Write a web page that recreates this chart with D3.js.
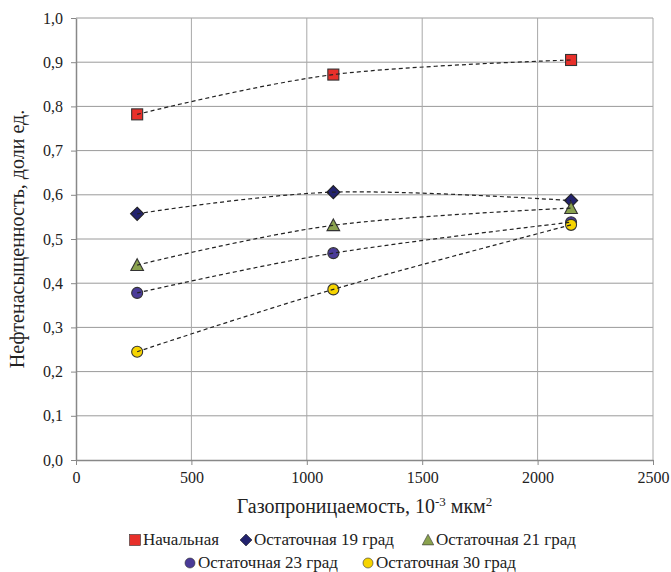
<!DOCTYPE html>
<html>
<head>
<meta charset="utf-8">
<script src="https://cdn.jsdelivr.net/npm/d3@7/dist/d3.min.js"></script>
<style>
  html, body { margin: 0; padding: 0; background: #fff; }
</style>
</head>
<body>
<svg id="chart" width="671" height="572" font-family="Liberation Serif"></svg>
<script>
// Gas permeability, 10^-3 µm²
const permeability = [265, 1115, 2145];

// Oil saturation, fraction
const seriesNames = ["Начальная", "Остаточная 19 град", "Остаточная 21 град", "Остаточная 23 град", "Остаточная 30 град"];
const initial  = [0.782, 0.872, 0.905];
const resid19  = [0.557, 0.606, 0.587];
const resid21  = [0.441, 0.531, 0.570];
const resid23  = [0.378, 0.468, 0.538];
const resid30  = [0.245, 0.386, 0.532];

const xTicks = [0, 500, 1000, 1500, 2000, 2500];
const yTicks = [0, 0.1, 0.2, 0.3, 0.4, 0.5, 0.6, 0.7, 0.8, 0.9, 1.0];

const series = [
  { name: seriesNames[0], values: initial, shape: "square",   fill: "#e8302a" },
  { name: seriesNames[1], values: resid19, shape: "diamond",  fill: "#23236e" },
  { name: seriesNames[2], values: resid21, shape: "triangle", fill: "#8aa24e" },
  { name: seriesNames[3], values: resid23, shape: "circle",   fill: "#4a3b98" },
  { name: seriesNames[4], values: resid30, shape: "circle",   fill: "#f6d400" }
];

const FONT = "Liberation Serif";
const svg = d3.select("#chart");
const plotLeft = 76, plotRight = 653, plotTop = 18, plotBottom = 460;

const x = d3.scaleLinear().domain([0, 2500]).range([plotLeft, plotRight]);
const y = d3.scaleLinear().domain([0, 1]).range([plotBottom, plotTop]);
const fmt = v => d3.format(".1f")(v).replace(".", ",");

// grid
const grid = svg.append("g");
grid.selectAll("line.h").data(yTicks.slice(1)).join("line")
  .attr("x1", plotLeft).attr("x2", plotRight)
  .attr("y1", d => y(d)).attr("y2", d => y(d))
  .attr("stroke", "#9a9a9a").attr("stroke-width", 1);
grid.selectAll("line.v").data(xTicks.slice(1)).join("line")
  .attr("x1", d => x(d)).attr("x2", d => x(d))
  .attr("y1", plotTop).attr("y2", plotBottom)
  .attr("stroke", "#a8a8a8").attr("stroke-width", 1);

// axes
const yAxis = svg.append("g").attr("transform", `translate(${plotLeft},0)`)
  .call(d3.axisLeft(y).tickValues(yTicks).tickFormat(fmt).tickSize(5).tickSizeOuter(0));
const xAxis = svg.append("g").attr("transform", `translate(0,${plotBottom})`)
  .call(d3.axisBottom(x).tickValues(xTicks).tickFormat(d3.format("d")).tickSize(5).tickSizeOuter(0));
[yAxis, xAxis].forEach(a => {
  a.attr("font-family", FONT).attr("font-size", 16);
  a.select(".domain").attr("stroke", "#888").attr("stroke-width", 1.5);
  a.selectAll(".tick line").attr("stroke", "#888");
  a.selectAll(".tick text").attr("fill", "#222").attr("font-family", FONT);
});
yAxis.selectAll(".tick text").attr("x", -13);
xAxis.selectAll(".tick text").attr("y", 12);

// axis titles
svg.append("text")
  .attr("transform", `translate(24,${(plotTop + plotBottom) / 2}) rotate(-90)`)
  .attr("text-anchor", "middle").attr("fill", "#222")
  .attr("font-family", FONT).attr("font-size", 20)
  .text("Нефтенасыщенность, доли ед.");

const xt = svg.append("text")
  .attr("x", (plotLeft + plotRight) / 2).attr("y", 513)
  .attr("text-anchor", "middle").attr("fill", "#222")
  .attr("font-family", FONT).attr("font-size", 20);
xt.append("tspan").text("Газопроницаемость, 10");
xt.append("tspan").attr("dy", -7).attr("font-size", 13).text("-3");
xt.append("tspan").attr("dy", 7).text(" мкм");
xt.append("tspan").attr("dy", -7).attr("font-size", 13).text("2");

// markers
function marker(g, shape, fill, cx, cy, s, sw) {
  if (shape === "square") {
    g.append("rect").attr("x", cx - s).attr("y", cy - s).attr("width", 2 * s).attr("height", 2 * s)
      .attr("fill", fill).attr("stroke", "#333").attr("stroke-width", sw);
  } else if (shape === "diamond") {
    const r = s * 1.2;
    g.append("path").attr("d", `M${cx},${cy - r}L${cx + r},${cy}L${cx},${cy + r}L${cx - r},${cy}Z`)
      .attr("fill", fill).attr("stroke", "#222").attr("stroke-width", sw);
  } else if (shape === "triangle") {
    const r = s * 1.15;
    g.append("path").attr("d", `M${cx},${cy - r}L${cx + r},${cy + r * 0.85}L${cx - r},${cy + r * 0.85}Z`)
      .attr("fill", fill).attr("stroke", "#333").attr("stroke-width", sw);
  } else {
    g.append("circle").attr("cx", cx).attr("cy", cy).attr("r", s)
      .attr("fill", fill).attr("stroke", "#333").attr("stroke-width", sw);
  }
}

const markG = svg.append("g");
series.forEach(s => {
  s.values.forEach((v, i) => marker(markG, s.shape, s.fill, x(permeability[i]), y(v), 5.5, 1.1));
});

// smoothed dashed lines
const line = d3.line().x((d, i) => x(permeability[i])).y(d => y(d)).curve(d3.curveCardinal.tension(0));
svg.append("g").selectAll("path").data(series).join("path")
  .attr("d", d => line(d.values))
  .attr("fill", "none").attr("stroke", "#222").attr("stroke-width", 1.2)
  .attr("stroke-dasharray", "4,3");

// legend
const legend = svg.append("g").attr("font-family", FONT).attr("font-size", 17);
const legendItems = [
  { s: series[0], mx: 135, my: 540 },
  { s: series[1], mx: 246, my: 540 },
  { s: series[2], mx: 428, my: 540 },
  { s: series[3], mx: 190, my: 563 },
  { s: series[4], mx: 368, my: 563 }
];
legendItems.forEach(it => {
  const g = legend.append("g");
  marker(g, it.s.shape, it.s.fill, it.mx, it.my, it.s.shape === "square" ? 5.5 : 5, 0.6);
  g.append("text").attr("x", it.mx + 8).attr("y", it.my + 5).attr("fill", "#222")
    .attr("font-family", FONT).text(it.s.name);
});
</script>
</body>
</html>
